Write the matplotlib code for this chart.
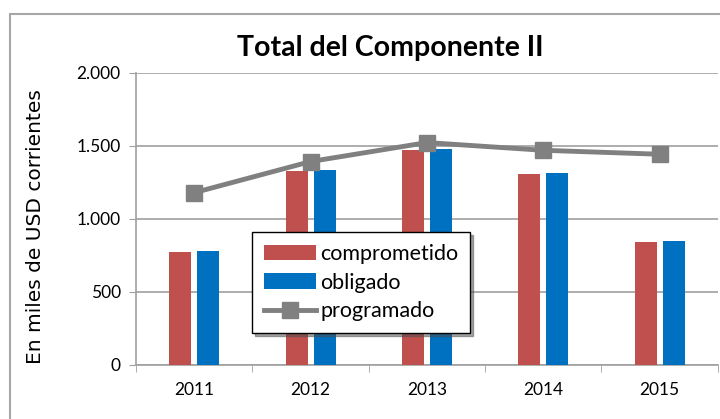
import numpy as np
import matplotlib
matplotlib.use("Agg")
import matplotlib.pyplot as plt
from matplotlib.patches import Rectangle

years = ["2011", "2012", "2013", "2014", "2015"]
comprometido = [774, 1329, 1473, 1308, 840]
obligado = [783, 1338, 1479, 1313, 847]
programado = [1180, 1393, 1523, 1470, 1443]

narrow = ["Lato", "DejaVu Sans"]
red = "#C0504D"
blue = "#0070C0"
grey = "#808080"

fig = plt.figure(figsize=(7.2, 4.19), dpi=100)
ax = fig.add_axes([0.189, 0.129, 0.808, 0.697])

# outer chart border
fig.patches.append(Rectangle((10 / 720, -0.1), 1.2, 1 - 14 / 419 + 0.1,
                             transform=fig.transFigure, fill=False,
                             edgecolor="#a6a6a6", linewidth=1.5))

x = np.arange(len(years))
w = 0.19
b1 = ax.bar(x - 0.12, comprometido, w, color=red, label="comprometido", zorder=3)
b2 = ax.bar(x + 0.12, obligado, w, color=blue, label="obligado", zorder=3)
l1, = ax.plot(x, programado, color=grey, linewidth=3.5, marker="s", markersize=11,
              label="programado", zorder=4)

ax.set_xlim(-0.5, 4.5)
ax.set_ylim(0, 2000)
ax.set_yticks([0, 500, 1000, 1500, 2000])
ax.set_yticklabels(["0", "500", "1.000", "1.500", "2.000"], family=narrow, fontsize=12.5)
ax.set_xticks(x)
ax.set_xticklabels(years, family=narrow, fontsize=12.5)
ax.set_xticks(np.arange(-0.5, 5, 1), minor=True)
ax.tick_params(axis="x", which="major", length=0, pad=12)
ax.tick_params(axis="x", which="minor", length=5, color="#a0a0a0")
ax.tick_params(axis="y", length=5, color="#a0a0a0", pad=6)

ax.grid(axis="y", color="#a0a0a0", linewidth=1.2, zorder=0)
for s in ["top", "right"]:
    ax.spines[s].set_visible(False)
for s in ["left", "bottom"]:
    ax.spines[s].set_color("#a0a0a0")
    ax.spines[s].set_linewidth(1.2)

ax.set_ylabel("En miles de USD corrientes", fontsize=14.5)
ax.yaxis.set_label_coords(-0.157, 0.475)
fig.text(0.542, 0.885, "Total del Componente II", ha="center", va="center",
         family=narrow, fontsize=20.5, fontweight="bold")

leg = ax.legend([b1, b2, l1], ["comprometido", "obligado", "programado"],
                loc="upper left", bbox_to_anchor=(0.2, 0.455), borderaxespad=0,
                prop={"family": narrow, "size": 15.5},
                frameon=True, fancybox=False, shadow=True, edgecolor="black",
                handlelength=2.4, handletextpad=0.2, labelspacing=0.4, borderpad=0.55)
leg.get_frame().set_linewidth(1.0)

fig.savefig("out.png", dpi=100)
